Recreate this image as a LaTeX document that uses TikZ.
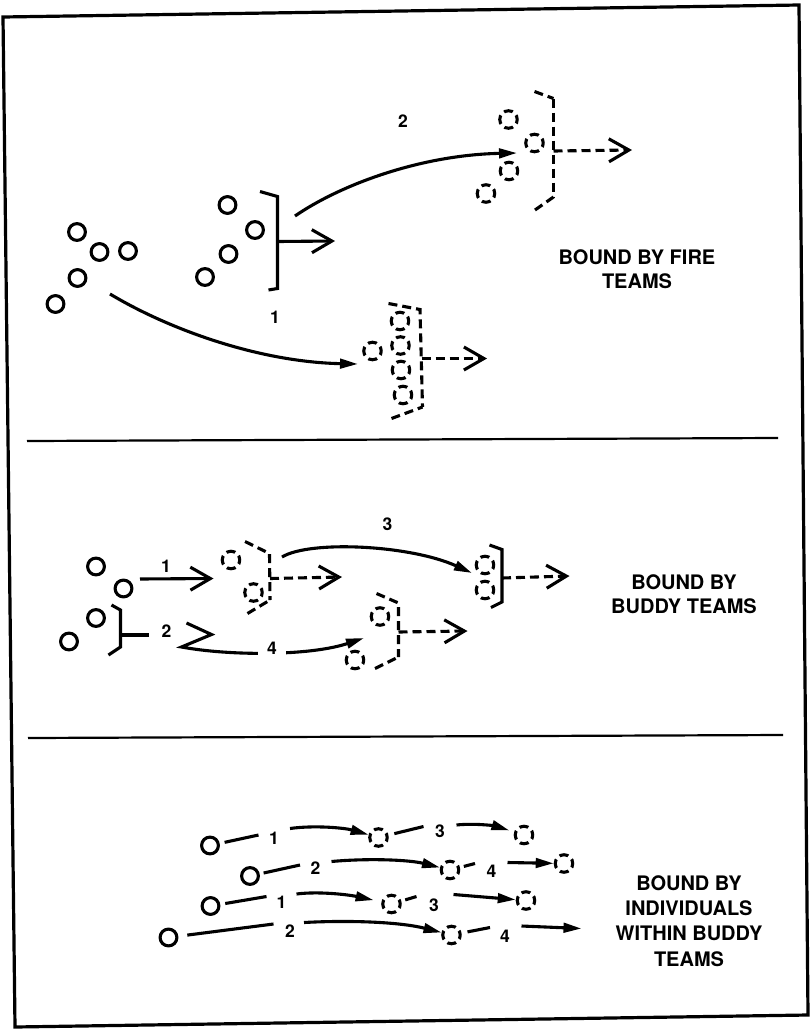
\documentclass[tikz,border=0pt]{standalone}
\usepackage{fontspec}
\setmainfont{TeX Gyre Heros}
\usetikzlibrary{arrows.meta}
\tikzset{
 sc/.style={circle,draw,line width=3.1pt,minimum size=16.8pt,inner sep=0pt},
 dc/.style={circle,draw,line width=3.1pt,minimum size=17.5pt,inner sep=0pt,dash pattern=on 9pt off 4.75pt,dash phase=4.5pt},
 ln/.style={line width=3.1pt},
 dl/.style={line width=3.1pt,dash pattern=on 9pt off 5pt},
 fh/.style={-{Triangle[length=18pt,width=9.5pt]}},
 oh/.style={-{Straight Barb[length=20pt,width=23pt]}},
 num/.style={font=\bfseries\fontsize{17.5}{17.5}\selectfont,inner sep=1pt},
 ttl/.style={font=\bfseries\fontsize{20}{24}\selectfont,align=center},
}
\begin{document}
\begin{tikzpicture}[x=1pt,y=-1pt]
\useasboundingbox (0,0) rectangle (811,1029);
% frame and dividers
\draw[line width=3.2pt] (3,17) -- (799,5) -- (808,1015) -- (15,1027) -- cycle;
\draw[line width=2.2pt] (27,441) -- (778,438);
\draw[line width=2.2pt] (28,738) -- (783,735);

% ===== top section =====
\node[sc] (a1) at (77,232) {};
\node[sc] (a2) at (99.5,252) {};
\node[sc] (a3) at (128,251) {};
\node[sc] (a4) at (77.5,278) {};
\node[sc] (a5) at (55.5,304) {};
\node[sc] (b1) at (227.5,205) {};
\node[sc] (b2) at (255,230) {};
\node[sc] (b3) at (228.5,254) {};
\node[sc] (b4) at (205,277) {};
\draw[ln] (260,191.5) -- (277.5,196.5) -- (277.5,288.5) -- (268.5,290);
\coordinate (bBs) at (277.5,241.5);
\coordinate (bBt) at (335,241);
\draw[ln,oh] (bBs) -- (bBt);

\node[dc] (c1) at (508.5,119.5) {};
\node[dc] (c2) at (534.5,143) {};
\node[dc] (c3) at (509,171) {};
\node[dc] (c4) at (486,193.5) {};
\draw[dl] (534.5,91.5) -- (553.5,98.5);
\draw[dl] (553.5,98.5) -- (553.5,197);
\draw[dl] (535,210) -- (553.5,197);
\coordinate (bCs) at (553.5,151);
\coordinate (bCt) at (632,150);
\draw[dl,oh] (bCs) -- (bCt);

\node[dc] (d1) at (372.5,351) {};
\node[dc] (d2) at (400,321) {};
\node[dc] (d3) at (400.5,345.5) {};
\node[dc] (d4) at (401,370) {};
\node[dc] (d5) at (403,395) {};
\draw[dl] (388.5,303.5) -- (420,309.5) -- (422.5,407);
\draw[dl] (391.5,418.5) -- (422.5,407);
\coordinate (bDs) at (421.5,358.5);
\coordinate (bDt) at (487,358.5);
\draw[dl,oh] (bDs) -- (bDt);

\coordinate (s2) at (295,216);
\coordinate (t2) at (517,153);
\draw[ln,fh] (s2) .. controls (340,185) and (420,155) .. (t2);
\coordinate (s1) at (110,294);
\coordinate (t1) at (358,364);
\draw[ln,fh] (s1) .. controls (170,330) and (260,362) .. (t1);
\node[num] (n2top) at (403,121) {2};
\node[num] (n1top) at (275,317) {1};
\node[ttl] (ttop) at (637,269) {BOUND BY FIRE\\TEAMS};

% ===== middle section =====
\node[sc] (m1) at (96,566.5) {};
\node[sc] (m2) at (123.5,588.5) {};
\node[sc] (m3) at (96,618) {};
\node[sc] (m4) at (69,641.5) {};
\coordinate (r1s) at (140,579);
\coordinate (r1t) at (213.5,578.5);
\draw[ln,oh] (r1s) -- (r1t);
\node[num] (mn1) at (166,566) {1};

\node[dc] (A1) at (231,560) {};
\node[dc] (A2) at (253.5,592.5) {};
\draw[dl] (245,541.5) -- (269.5,553.5) -- (270,600);
\draw[dl] (247.5,613.5) -- (270,600);
\coordinate (bAs) at (270,578.5);
\coordinate (bAt) at (342,577);
\draw[dl,oh] (bAs) -- (bAt);

\draw[ln] (111.5,605) -- (120.5,610) -- (120.5,647) -- (108.5,655);
\coordinate (bLs) at (120.5,635);
\coordinate (bLt) at (148.5,635);
\draw[ln] (bLs) -- (bLt);
\node[num] (mn2) at (166.5,631) {2};
\coordinate (chA) at (186.5,623);
\coordinate (chT) at (211.5,634.5);
\coordinate (chB) at (181.5,647);
\coordinate (t4) at (364,638);
\draw[ln,fh,line join=miter] (chA) -- (chT) -- (chB) .. controls (230,656) and (310,656) .. (t4);
\node[num,fill=white,inner xsep=9pt] (mn4) at (272,648) {4};

\coordinate (s3) at (282,557);
\coordinate (t3) at (472,573);
\draw[ln,fh] (s3) .. controls (310,540) and (410,545) .. (t3);
\node[num] (mn3) at (387.5,524) {3};

\node[dc] (C1) at (485,565) {};
\node[dc] (C2) at (485,590) {};
\draw[ln] (489.5,545) -- (502,549.5) -- (502,602) -- (491,607.5);
\coordinate (bCCs) at (502,578);
\coordinate (bCCt) at (569.5,576);
\draw[dl,oh] (bCCs) -- (bCCt);

\node[dc] (B1) at (380,616.5) {};
\node[dc] (B2) at (355,660) {};
\draw[dl] (376.5,593.5) -- (398.5,603) -- (398.5,657);
\draw[dl] (375,668.5) -- (398.5,657);
\coordinate (bBBs) at (398.5,632);
\coordinate (bBBt) at (467.5,631);
\draw[dl,oh] (bBBs) -- (bBBt);

\node[ttl] (tmid) at (684,594.5) {BOUND BY\\BUDDY TEAMS};

% ===== bottom section =====
% row 1
\node[sc] (c11) at (210,845.5) {};
\coordinate (k11) at (258.5,835);
\draw[ln,shorten <=5pt] (c11) -- (k11);
\node[num] (l11) at (274,838.5) {1};
\node[dc] (d11) at (378.5,837.5) {};
\coordinate (s11) at (290,828.5);
\draw[ln,fh] (s11) .. controls (315,825) and (345,828) .. (d11);
\coordinate (k12) at (423.5,826.5);
\draw[ln,shorten <=6pt] (d11) -- (k12);
\node[num] (l12) at (440,831.5) {3};
\node[dc] (d12) at (524,835) {};
\coordinate (s12) at (456.5,825);
\draw[ln,fh,shorten >=5pt] (s12) .. controls (475,823) and (495,826) .. (d12);
% row 2
\node[sc] (c21) at (250,876) {};
\coordinate (k21) at (300,865);
\draw[ln,shorten <=4pt] (c21) -- (k21);
\node[num] (l21) at (315.5,868.5) {2};
\node[dc] (d21) at (450,870) {};
\coordinate (s21) at (331.5,861.5);
\draw[ln,fh] (s21) .. controls (370,858) and (410,860) .. (d21);
\coordinate (k22) at (475,863.5);
\draw[ln,shorten <=4pt] (d21) -- (k22);
\node[num] (l22) at (491.5,871) {4};
\node[dc] (d22) at (564,863.5) {};
\coordinate (s22) at (507.5,862.5);
\draw[ln,fh] (s22) -- (d22);
% row 3
\node[sc] (c31) at (210.5,906) {};
\coordinate (k31) at (266.5,896.5);
\draw[ln,shorten <=5pt] (c31) -- (k31);
\node[num] (l31) at (281.5,902.5) {1};
\node[dc] (d31) at (391.5,904) {};
\coordinate (s31) at (296.5,894);
\draw[ln,fh,shorten >=8pt] (s31) .. controls (320,891) and (350,895) .. (d31);
\coordinate (k32) at (416.5,896.5);
\draw[ln,shorten <=4pt] (d31) -- (k32);
\node[num] (l32) at (434,905.5) {3};
\node[dc] (d32) at (526,900.5) {};
\coordinate (s32) at (453.5,894.5);
\draw[ln,fh] (s32) -- (d32);
% row 4
\node[sc] (c41) at (168.5,937.5) {};
\coordinate (k41) at (273.5,924);
\draw[ln,shorten <=9pt] (c41) -- (k41);
\node[num] (l41) at (290,931.5) {2};
\node[dc] (d41) at (451.5,935) {};
\coordinate (s41) at (304,922.5);
\draw[ln,fh] (s41) .. controls (350,920) and (400,922) .. (d41);
\coordinate (k42) at (490,927.5);
\draw[ln,shorten <=6pt] (d41) -- (k42);
\node[num] (l42) at (505,936.5) {4};
\coordinate (s42) at (521.5,926);
\coordinate (t42) at (581.5,928.5);
\draw[ln,fh] (s42) -- (t42);

\node[ttl,font=\bfseries\fontsize{20}{25.3}\selectfont] (tbot) at (689,921) {BOUND BY\\INDIVIDUALS\\WITHIN BUDDY\\TEAMS};
\end{tikzpicture}
\end{document}
